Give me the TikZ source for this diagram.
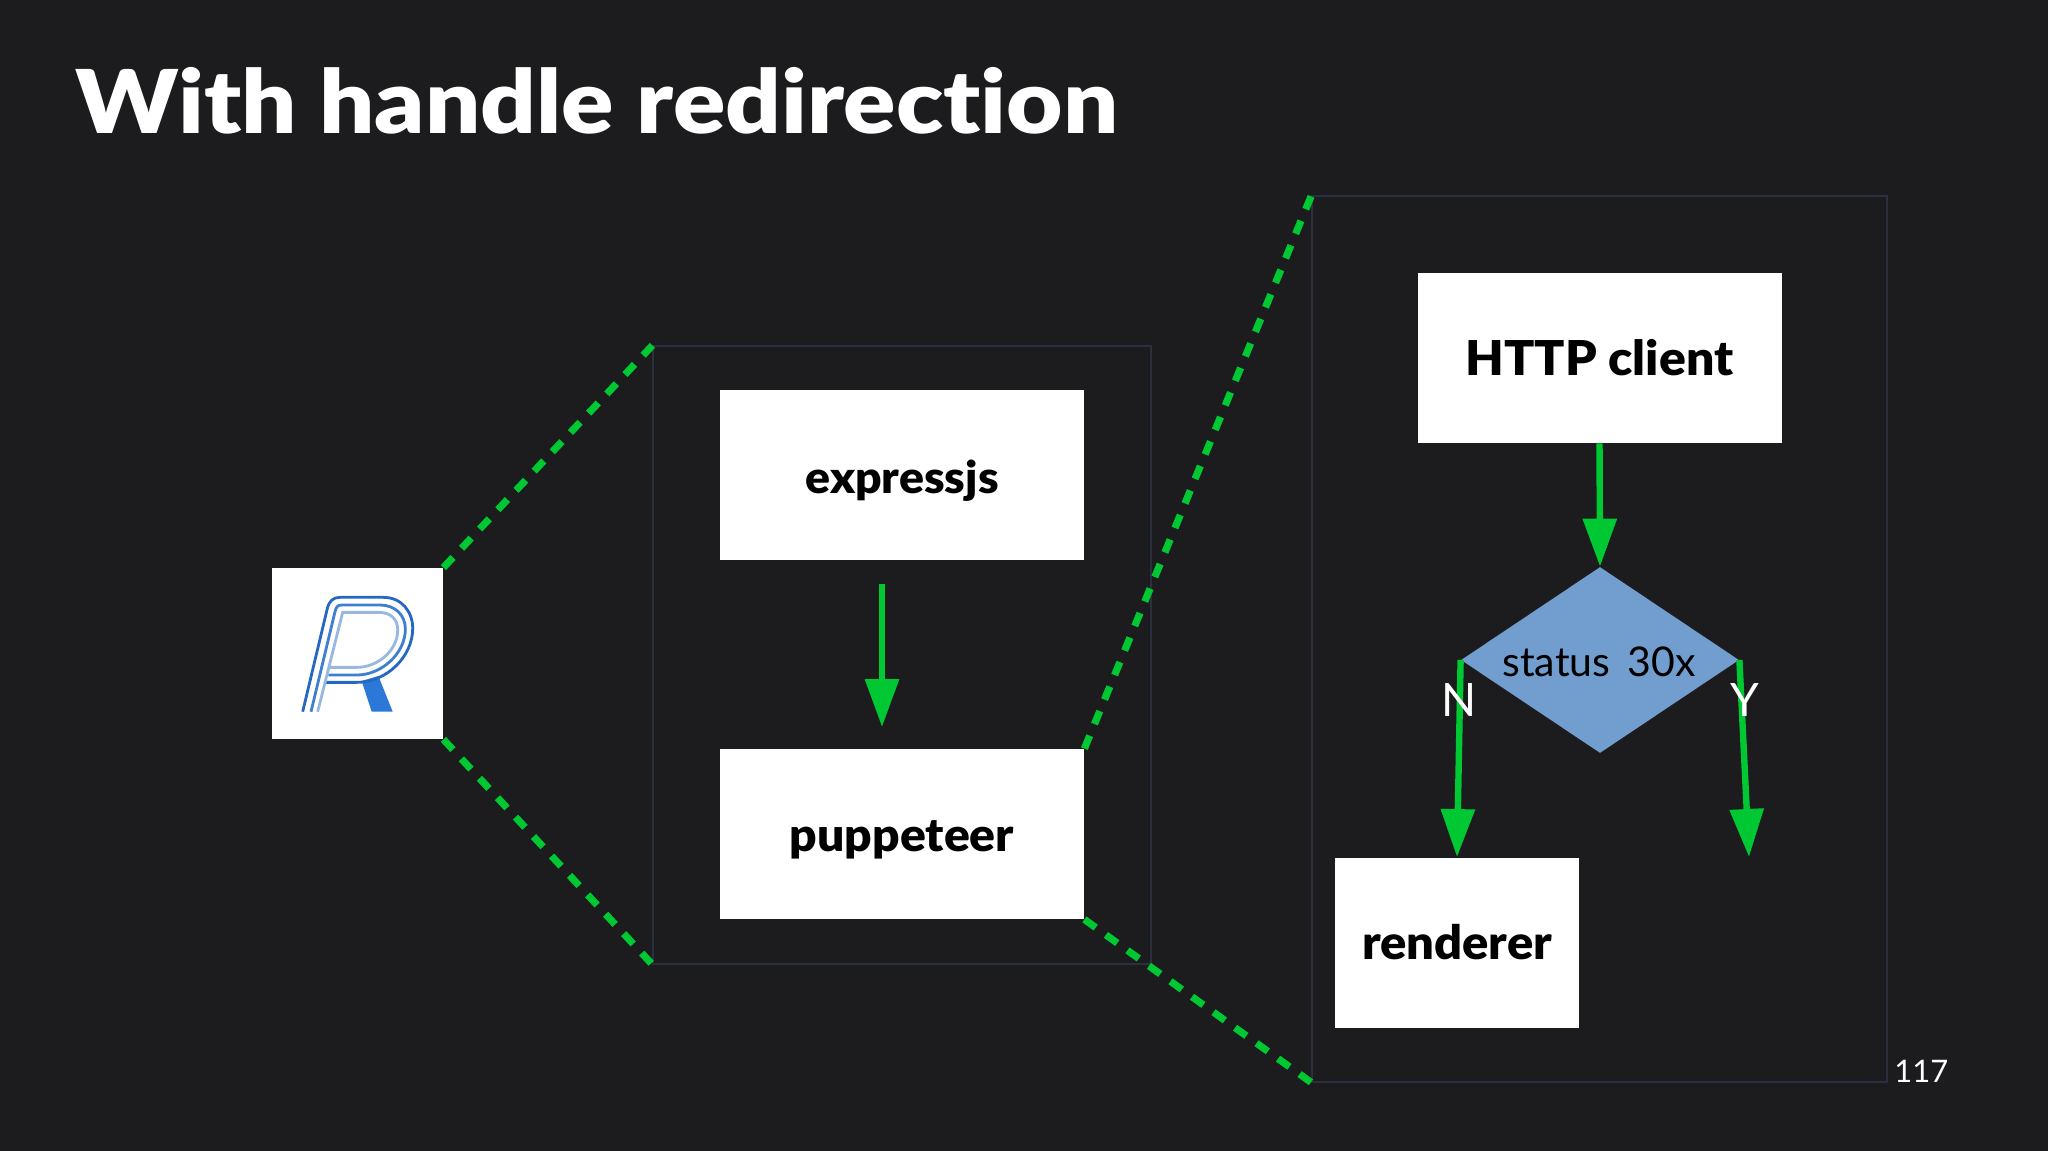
\documentclass[tikz,border=0pt]{standalone}
\usepackage{fontspec}
\setmainfont{Lato}
\newfontfamily\heavy{Lato Black}
\newfontfamily\heavytitle[FakeStretch=1.105]{Lato Black}
\newfontfamily\heavywide[FakeStretch=1.04]{Lato Black}
\usetikzlibrary{arrows.meta,shapes.geometric}
\definecolor{bgc}{HTML}{1C1C1E}
\definecolor{grn}{HTML}{00C832}
\definecolor{frm}{HTML}{2B3040}
\definecolor{dia}{HTML}{719ECE}
\definecolor{lg1}{HTML}{2468C4}
\definecolor{lg2}{HTML}{3F7FD0}
\definecolor{lg3}{HTML}{98B8E0}
\definecolor{lgl}{HTML}{2C78D8}
\tikzset{
 x=0.5pt,y=-0.5pt,
 wbox/.style={draw=none,fill=white,inner sep=0pt,minimum width=#1,minimum height=85pt,text=black},
 frame/.style={draw=frm,line width=0.6pt,fill=none,inner sep=0pt},
 zoomline/.style={draw=grn,line width=3.6pt,dash pattern=on 7pt off 6.25pt},
 flow/.style={draw=grn,line width=3.2pt,-{Triangle[length=24pt,width=16.5pt]}},
 lab/.style={text=white,font=\fontsize{23}{26}\selectfont,inner sep=0pt},
}
\begin{document}
\begin{tikzpicture}
\useasboundingbox (0,0) rectangle (2048,1150);
\fill[bgc] (-10,-10) rectangle (2058,1160);
\node[anchor=base west,text=white,inner sep=0pt,font=\heavytitle\fontsize{44}{50}\selectfont] (title) at (75,134) {With handle redirect\kern0pt ion};
% frames
\node[frame,minimum width=249pt,minimum height=309pt] (outer) at (902,655) {};
\node[frame,minimum width=287.5pt,minimum height=443pt] (detail) at (1599.5,639) {};
% logo
\node[fill=white,inner sep=0pt,minimum width=85.5pt,minimum height=85.5pt] (logo) at (357.5,653.5) {};
\begin{scope}[shift={(250,550)},x=0.1667pt,y=-0.1667pt]
 \fill[lgl] (335,393) -- (385,378) -- (428,485) -- (365,485) -- cycle;
 \draw[lg1,line width=1.4pt] (158,485) -- (232,175) .. controls (238,152) and (250,142) .. (270,142) -- (400,142) .. controls (455,142) and (488,185) .. (488,235) .. controls (488,320) and (410,397) .. (320,397) -- (225,397);
 \draw[lg2,line width=1.4pt] (183,485) -- (255,185) .. controls (258,172) and (262,165) .. (275,165) -- (390,165) .. controls (435,165) and (466,195) .. (466,237) .. controls (466,310) and (395,375) .. (320,375) -- (235,375);
 \draw[lg3,line width=1.4pt] (203,485) -- (278,187) -- (385,187) .. controls (420,187) and (443,205) .. (443,240) .. controls (443,300) and (385,352) .. (320,352) -- (240,352);
\end{scope}
% boxes
\node[wbox=182pt,font=\heavywide\fontsize{22.3}{26}\selectfont,text depth=0pt] (express) at (902,475) {\raisebox{-2pt}{expressjs}};
\node[wbox=182pt,font=\heavywide\fontsize{23.1}{26}\selectfont,text depth=0pt] (pup) at (902,834) {\raisebox{-2pt}{puppeteer}};
\node[wbox=182pt,font=\heavywide\fontsize{24}{26}\selectfont] (http) at (1599.5,358) {HTTP client};
\node[wbox=122pt,font=\heavywide\fontsize{23.5}{26}\selectfont] (rend) at (1457,942.5) {renderer};
\node[diamond,aspect=1.5,fill=dia,inner sep=0pt,minimum width=139pt,minimum height=93pt] (dec) at (1600,660) {};
\node[text=black,inner sep=0pt,font=\fontsize{20.5}{26}\selectfont] (dectext) at (1599,662) {status\, 30x};
% zoom lines
\draw[zoomline] (logo.north east) -- (outer.north west);
\draw[zoomline] (logo.south east) -- (outer.south west);
\draw[zoomline] (pup.north east) -- (detail.north west);
\draw[zoomline] (pup.south east) -- (detail.south west);
% flow
\coordinate (eStart) at (882,584);
\coordinate (eEnd) at (882,727);
\draw[flow] (eStart) -- (eEnd);
\draw[flow] (http.south) -- (dec.north);
\coordinate (yEnd) at (1749,857);
\draw[flow] (dec.west) -- (rend.north);
\draw[flow] (dec.east) -- (yEnd);
\node[lab] (n) at (1459,700) {N};
\node[lab] (y) at (1745,700) {Y};
\node[anchor=base west,text=white,inner sep=0pt,font=\fontsize{15.5}{20}\selectfont] (pg) at (1894,1082) {117};
\end{tikzpicture}
\end{document}
